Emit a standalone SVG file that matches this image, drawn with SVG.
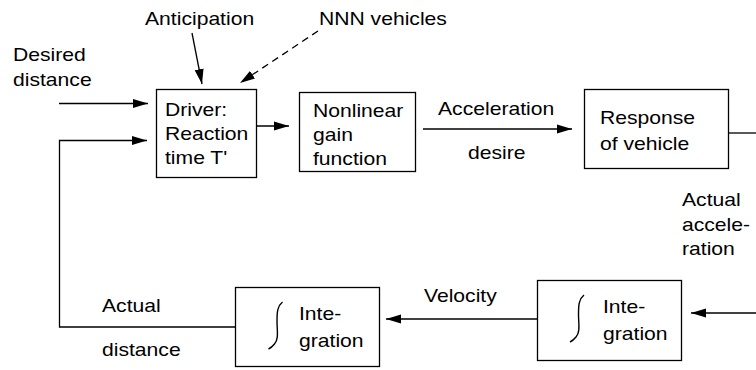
<svg xmlns="http://www.w3.org/2000/svg" width="756" height="370" viewBox="0 0 756 370">
<style>
.t{font-family:"Liberation Sans",Arial,Helvetica,sans-serif;font-size:18.7px;fill:#000}
.box{fill:#fff;stroke:#000;stroke-width:1.3}
.ln{fill:none;stroke:#000;stroke-width:1.3}
.dash{stroke-dasharray:7 5}
.intg{fill:none;stroke:#000;stroke-width:1.4}
</style>
<defs>
<marker id="ah" markerWidth="16" markerHeight="10" refX="15" refY="5" orient="auto" markerUnits="userSpaceOnUse">
<path d="M0,0.5 L15,5 L0,9.5 z" fill="#000"/>
</marker>
</defs>
<rect width="756" height="370" fill="#fff"/>
<g id="connectors">
<path class="ln" d="M59,103.5 H148" marker-end="url(#ah)"/>
<path class="ln" d="M235,327 H59.5 V140.5 H147" marker-end="url(#ah)"/>
<path class="ln" d="M192,33 L202,84" marker-end="url(#ah)"/>
<path class="ln dash" d="M318,31 L240,83" marker-end="url(#ah)"/>
<path class="ln" d="M256,126 H289" marker-end="url(#ah)"/>
<path class="ln" d="M423,129 H572" marker-end="url(#ah)"/>
<path class="ln" d="M728,133 H756"/>
<path class="ln" d="M756,313 H691" marker-end="url(#ah)"/>
<path class="ln" d="M537,319 H386" marker-end="url(#ah)"/>
</g>
<g id="label-anticipation"><text class="t" transform="translate(145,25) scale(1.13,1)">Anticipation</text></g>
<g id="label-nnn"><text class="t" transform="translate(319,25) scale(1.13,1)">NNN vehicles</text></g>
<g id="label-desired"><text class="t" transform="translate(13,61) scale(1.13,1)"><tspan x="0" y="0">Desired</tspan><tspan x="0" y="25">distance</tspan></text></g>
<g id="driver">
<rect class="box" x="156.5" y="89.5" width="100" height="88"/>
<text class="t" transform="translate(165,116) scale(1.13,1)"><tspan x="0" y="0">Driver:</tspan><tspan x="0" y="24">Reaction</tspan><tspan x="0" y="48">time T'</tspan></text>
</g>
<g id="nonlinear">
<rect class="box" x="299.5" y="92.5" width="116" height="79"/>
<text class="t" transform="translate(313,117) scale(1.13,1)"><tspan x="0" y="0">Nonlinear</tspan><tspan x="0" y="24">gain</tspan><tspan x="0" y="48">function</tspan></text>
</g>
<g id="label-acceleration"><text class="t" transform="translate(438,115) scale(1.13,1)">Acceleration</text><text class="t" transform="translate(468,159) scale(1.13,1)">desire</text></g>
<g id="response">
<rect class="box" x="584.5" y="89.5" width="144" height="79"/>
<text class="t" transform="translate(600,124) scale(1.13,1)"><tspan x="0" y="0">Response</tspan><tspan x="0" y="26">of vehicle</tspan></text>
</g>
<g id="label-actual-accel"><text class="t" transform="translate(682,206) scale(1.13,1)"><tspan x="0" y="0">Actual</tspan><tspan x="0" y="25">accele-</tspan><tspan x="0" y="49">ration</tspan></text></g>
<g id="integration-1">
<rect class="box" x="537.5" y="280.5" width="144" height="80"/>
<path class="intg" d="M584,295 C579,299 578.5,305 578.5,314 C578.5,324 580.5,332 576,337 C574,339.5 572,341 570,342"/>
<text class="t" transform="translate(603,313) scale(1.13,1)"><tspan x="0" y="0">Inte-</tspan><tspan x="0" y="27">gration</tspan></text>
</g>
<g id="label-velocity"><text class="t" transform="translate(424,302) scale(1.13,1)">Velocity</text></g>
<g id="integration-2">
<rect class="box" x="235.5" y="287.5" width="144" height="79"/>
<path class="intg" d="M282.5,302 C277.5,306 277,312 277,321 C277,331 279,339 274.5,344 C272.5,346.5 270.5,348 268.5,349"/>
<text class="t" transform="translate(299,320) scale(1.13,1)"><tspan x="0" y="0">Inte-</tspan><tspan x="0" y="27">gration</tspan></text>
</g>
<g id="label-actual-distance"><text class="t" transform="translate(102,312) scale(1.13,1)">Actual</text><text class="t" transform="translate(102,356) scale(1.13,1)">distance</text></g>
</svg>
